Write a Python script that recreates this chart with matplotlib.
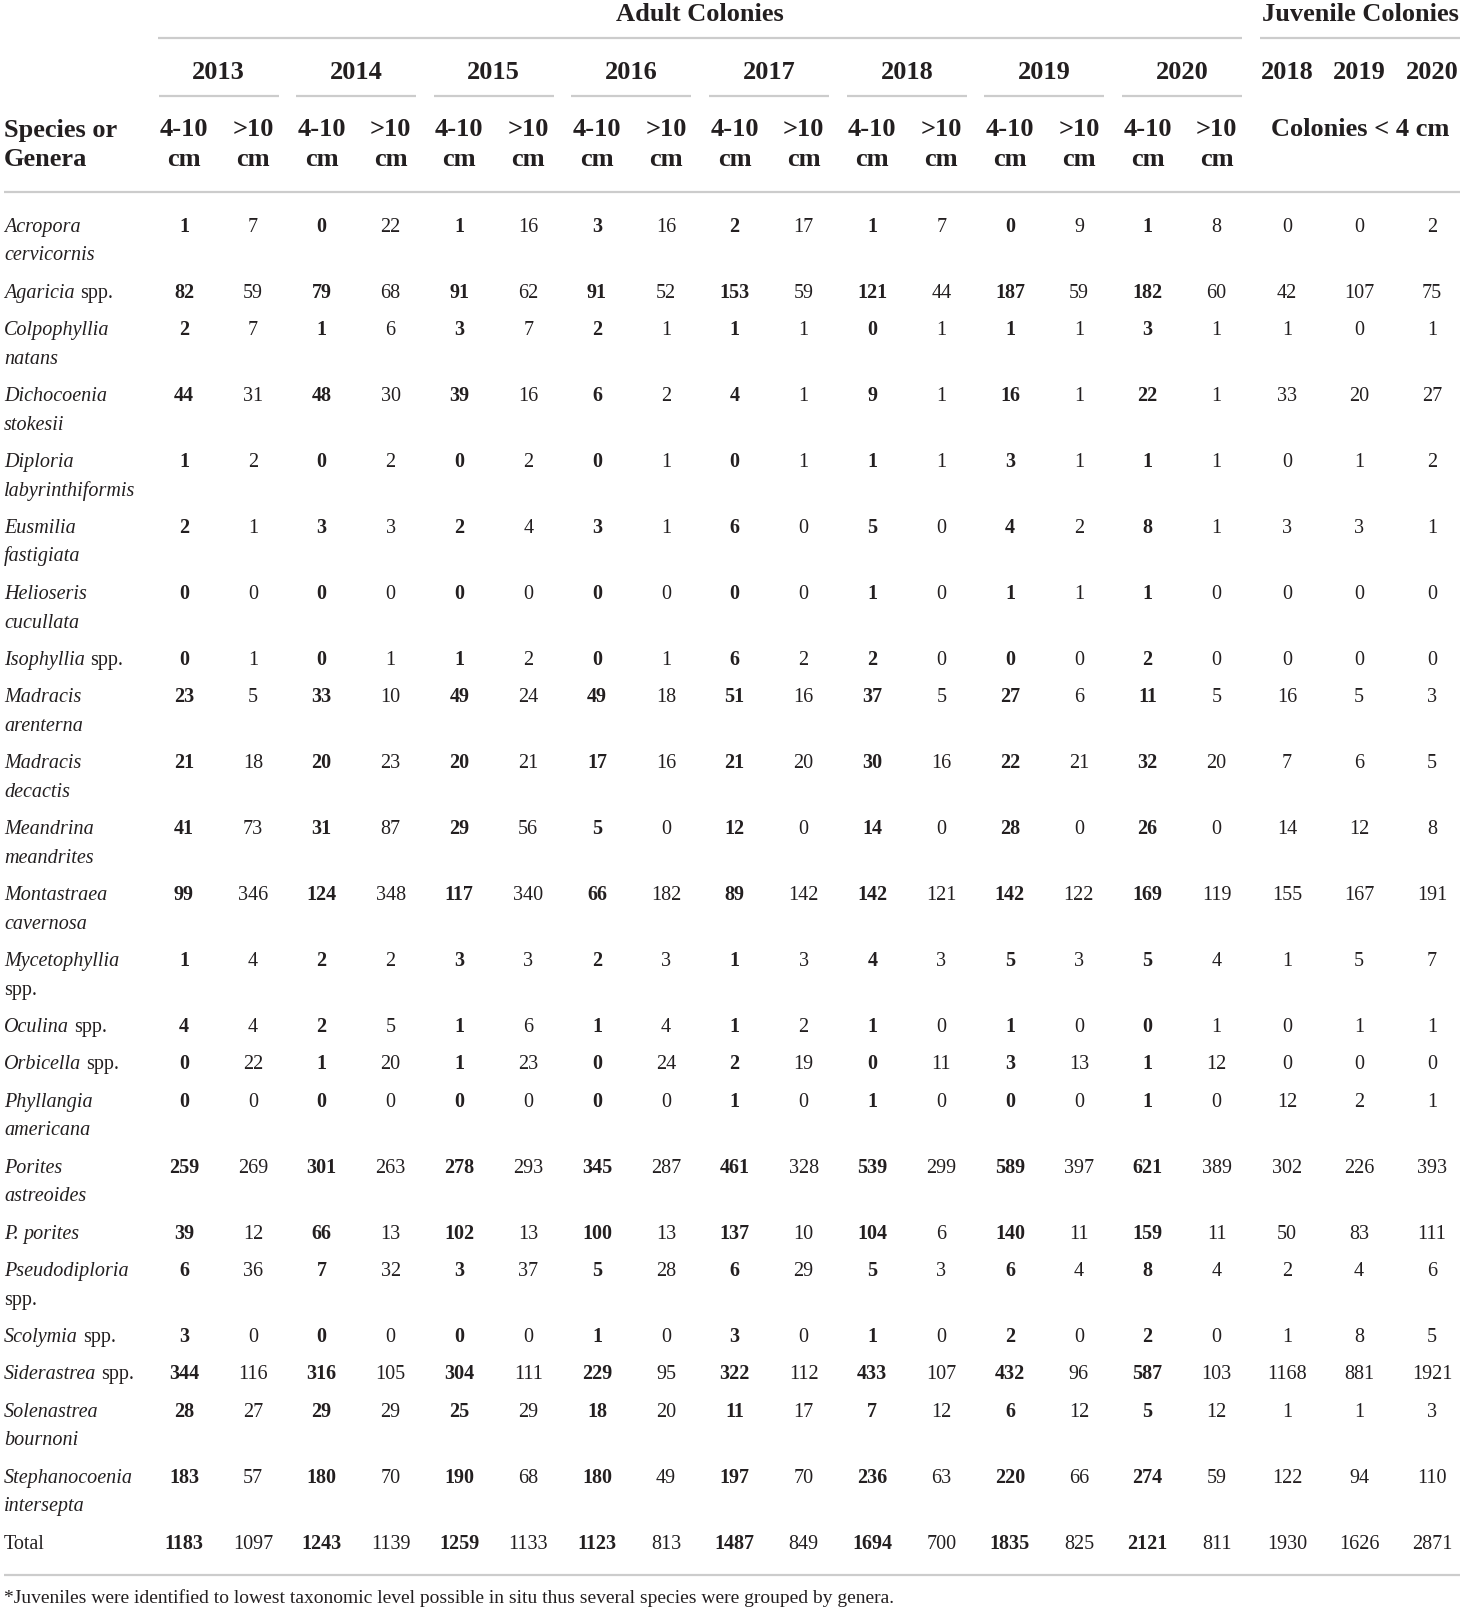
import matplotlib
matplotlib.use("Agg")
import matplotlib.pyplot as plt

# ---- table data ----
years = ["2013", "2014", "2015", "2016", "2017", "2018", "2019", "2020"]
juv_years = ["2018", "2019", "2020"]

species = [
    "Acropora|cervicornis", "Agaricia spp.", "Colpophyllia|natans",
    "Dichocoenia|stokesii", "Diploria|labyrinthiformis", "Eusmilia|fastigiata",
    "Helioseris|cucullata", "Isophyllia spp.", "Madracis|arenterna",
    "Madracis|decactis", "Meandrina|meandrites", "Montastraea|cavernosa",
    "Mycetophyllia|spp.", "Oculina spp.", "Orbicella spp.", "Phyllangia|americana",
    "Porites|astreoides", "P. porites", "Pseudodiploria|spp.", "Scolymia spp.",
    "Siderastrea spp.", "Solenastrea|bournoni", "Stephanocoenia|intersepta",
]

# colonies 4-10 cm, 2013..2020
small = [
    [1, 0, 1, 3, 2, 1, 0, 1],
    [82, 79, 91, 91, 153, 121, 187, 182],
    [2, 1, 3, 2, 1, 0, 1, 3],
    [44, 48, 39, 6, 4, 9, 16, 22],
    [1, 0, 0, 0, 0, 1, 3, 1],
    [2, 3, 2, 3, 6, 5, 4, 8],
    [0, 0, 0, 0, 0, 1, 1, 1],
    [0, 0, 1, 0, 6, 2, 0, 2],
    [23, 33, 49, 49, 51, 37, 27, 11],
    [21, 20, 20, 17, 21, 30, 22, 32],
    [41, 31, 29, 5, 12, 14, 28, 26],
    [99, 124, 117, 66, 89, 142, 142, 169],
    [1, 2, 3, 2, 1, 4, 5, 5],
    [4, 2, 1, 1, 1, 1, 1, 0],
    [0, 1, 1, 0, 2, 0, 3, 1],
    [0, 0, 0, 0, 1, 1, 0, 1],
    [259, 301, 278, 345, 461, 539, 589, 621],
    [39, 66, 102, 100, 137, 104, 140, 159],
    [6, 7, 3, 5, 6, 5, 6, 8],
    [3, 0, 0, 1, 3, 1, 2, 2],
    [344, 316, 304, 229, 322, 433, 432, 587],
    [28, 29, 25, 18, 11, 7, 6, 5],
    [183, 180, 190, 180, 197, 236, 220, 274],
]

# colonies >10 cm, 2013..2020
large = [
    [7, 22, 16, 16, 17, 7, 9, 8],
    [59, 68, 62, 52, 59, 44, 59, 60],
    [7, 6, 7, 1, 1, 1, 1, 1],
    [31, 30, 16, 2, 1, 1, 1, 1],
    [2, 2, 2, 1, 1, 1, 1, 1],
    [1, 3, 4, 1, 0, 0, 2, 1],
    [0, 0, 0, 0, 0, 0, 1, 0],
    [1, 1, 2, 1, 2, 0, 0, 0],
    [5, 10, 24, 18, 16, 5, 6, 5],
    [18, 23, 21, 16, 20, 16, 21, 20],
    [73, 87, 56, 0, 0, 0, 0, 0],
    [346, 348, 340, 182, 142, 121, 122, 119],
    [4, 2, 3, 3, 3, 3, 3, 4],
    [4, 5, 6, 4, 2, 0, 0, 1],
    [22, 20, 23, 24, 19, 11, 13, 12],
    [0, 0, 0, 0, 0, 0, 0, 0],
    [269, 263, 293, 287, 328, 299, 397, 389],
    [12, 13, 13, 13, 10, 6, 11, 11],
    [36, 32, 37, 28, 29, 3, 4, 4],
    [0, 0, 0, 0, 0, 0, 0, 0],
    [116, 105, 111, 95, 112, 107, 96, 103],
    [27, 29, 29, 20, 17, 12, 12, 12],
    [57, 70, 68, 49, 70, 63, 66, 59],
]

# juvenile colonies < 4 cm, 2018..2020
juvenile = [
    [0, 0, 2], [42, 107, 75], [1, 0, 1], [33, 20, 27], [0, 1, 2], [3, 3, 1],
    [0, 0, 0], [0, 0, 0], [16, 5, 3], [7, 6, 5], [14, 12, 8], [155, 167, 191],
    [1, 5, 7], [0, 1, 1], [0, 0, 0], [12, 2, 1], [302, 226, 393], [50, 83, 111],
    [2, 4, 6], [1, 8, 5], [1168, 881, 1921], [1, 1, 3], [122, 94, 110],
]

total_small = [1183, 1243, 1259, 1123, 1487, 1694, 1835, 2121]
total_large = [1097, 1139, 1133, 813, 849, 700, 825, 811]
total_juv = [1930, 1626, 2871]

footnote = ("*Juveniles were identified to lowest taxonomic level possible "
            "in situ thus several species were grouped by genera.")

# ---- layout ----
W, H = 1460, 1609
FONT = "Liberation Serif"
INK = "#231f20"
RULE = "#cccccc"
HEAD_FS = 19
BODY_FS = 14.5

fig = plt.figure(figsize=(W / 100, H / 100), dpi=100)
ax = fig.add_axes([0, 0, 1, 1])
ax.set_xlim(0, W)
ax.set_ylim(H, 0)
ax.axis("off")

step = 137.65
x_small = [184 + step * i for i in range(8)]
x_large = [253 + step * i for i in range(8)]
x_juv = [1287, 1359, 1432]
x_name = 4


def txt(x, y, s, size=BODY_FS, weight="normal", style="normal", ha="center"):
    return ax.text(x, y, s, fontsize=size, fontweight=weight, fontstyle=style,
                   family=FONT, color=INK, ha=ha, va="baseline")


def hline(x0, x1, y):
    ax.plot([x0, x1], [y, y], color=RULE, lw=1.6, solid_capstyle="butt")


# header
txt(700, 20.5, "Adult Colonies", size=HEAD_FS, weight="bold")
txt(1360, 20.5, "Juvenile Colonies", size=HEAD_FS, weight="bold")
hline(158, 1242, 38)
hline(1260, W, 38)

for i, yr in enumerate(years):
    cx = (x_small[i] + x_large[i]) / 2
    txt(cx, 78.5, yr, size=HEAD_FS, weight="bold")
    hline(cx - 60, cx + 60, 96)
    txt(x_small[i], 135.5, "4-10", size=HEAD_FS, weight="bold")
    txt(x_small[i], 165.5, "cm", size=HEAD_FS, weight="bold")
    txt(x_large[i], 135.5, ">10", size=HEAD_FS, weight="bold")
    txt(x_large[i], 165.5, "cm", size=HEAD_FS, weight="bold")

for i, yr in enumerate(juv_years):
    txt(x_juv[i], 78.5, yr, size=HEAD_FS, weight="bold")
txt(1360, 135.5, "Colonies < 4 cm", size=HEAD_FS, weight="bold")

txt(x_name, 136.5, "Species or", size=HEAD_FS, weight="bold", ha="left")
txt(x_name, 165.5, "Genera", size=HEAD_FS, weight="bold", ha="left")
hline(4, W, 192)

fig.canvas.draw()
renderer = fig.canvas.get_renderer()


def name_line(y, line):
    # species names italic, "spp." upright
    x = x_name
    for w in line.split(" "):
        style = "normal" if w == "spp." else "italic"
        t = txt(x, y, w, style=style, ha="left")
        bb = t.get_window_extent(renderer)
        x = bb.x1 + 0.25 * BODY_FS * 100 / 72


# body
line_h = 28.7
pad = 8.6
y = 231.5
for r, name in enumerate(species):
    lines = name.split("|")
    for j, ln in enumerate(lines):
        name_line(y + j * line_h, ln)
    for i in range(8):
        txt(x_small[i], y, str(small[r][i]), weight="bold")
        txt(x_large[i], y, str(large[r][i]))
    for i in range(3):
        txt(x_juv[i], y, str(juvenile[r][i]))
    y += pad + len(lines) * line_h

txt(x_name, y, "Total", ha="left")
for i in range(8):
    txt(x_small[i], y, str(total_small[i]), weight="bold")
    txt(x_large[i], y, str(total_large[i]))
for i in range(3):
    txt(x_juv[i], y, str(total_juv[i]))

hline(4, W, 1575)
txt(4, 1603, footnote, size=14, ha="left")

fig.savefig("out.png", dpi=100)
